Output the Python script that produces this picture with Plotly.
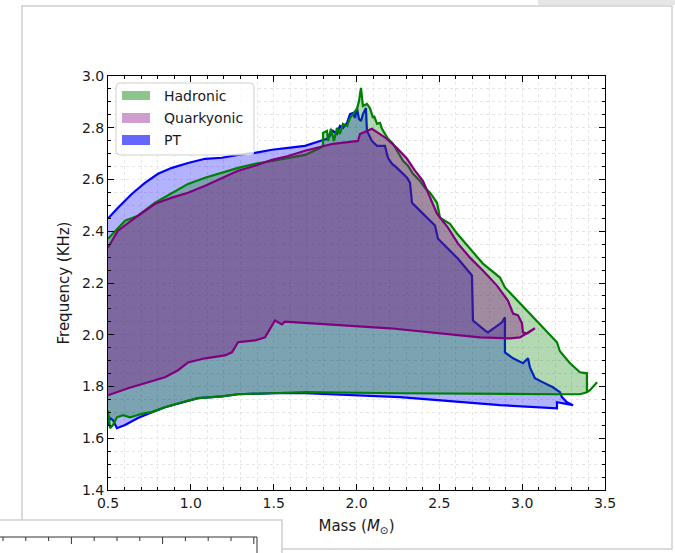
import plotly.graph_objects as go

# ---------------- data (Mass in M_sun, Frequency in kHz) ----------------
hadronic_mass = [0.500, 0.512, 0.530, 0.554, 0.591, 0.633, 0.675, 0.723, 0.766, 0.844, 0.947, 1.043,
                 1.188, 1.285, 1.490, 1.689, 2.263, 2.866, 3.228, 3.349, 3.391, 3.409, 3.452, 3.409,
                 3.391, 3.391, 3.349, 3.319, 3.289, 3.228, 3.210, 2.896, 2.866, 2.763, 2.685, 2.607,
                 2.564, 2.504, 2.486, 2.444, 2.413, 2.383, 2.341, 2.311, 2.281, 2.250, 2.220, 2.190,
                 2.172, 2.154, 2.142, 2.124, 2.106, 2.100, 2.081, 2.063, 2.039, 2.027, 2.015, 2.003,
                 1.979, 1.961, 1.943, 1.918, 1.900, 1.882, 1.864, 1.846, 1.828, 1.822, 1.798, 1.798,
                 1.780, 1.689, 1.490, 1.387, 1.285, 1.188, 1.086, 0.983, 0.886, 0.784, 0.681, 0.603,
                 0.500]
hadronic_freq = [1.708, 1.639, 1.651, 1.681, 1.689, 1.681, 1.689, 1.697, 1.701, 1.720, 1.739, 1.755,
                 1.762, 1.770, 1.774, 1.778, 1.774, 1.770, 1.770, 1.770, 1.778, 1.786, 1.816, 1.786,
                 1.778, 1.851, 1.855, 1.874, 1.890, 1.936, 1.971, 2.183, 2.221, 2.275, 2.333, 2.391,
                 2.429, 2.452, 2.510, 2.549, 2.568, 2.595, 2.622, 2.653, 2.672, 2.703, 2.738, 2.757,
                 2.776, 2.796, 2.819, 2.815, 2.846, 2.838, 2.876, 2.892, 2.884, 2.954, 2.903, 2.873,
                 2.853, 2.838, 2.807, 2.815, 2.776, 2.799, 2.749, 2.796, 2.749, 2.788, 2.780, 2.730,
                 2.722, 2.695, 2.672, 2.661, 2.645, 2.626, 2.607, 2.583, 2.549, 2.510, 2.460, 2.441,
                 2.371]

quark_mass = [0.500, 0.560, 0.681, 0.784, 0.886, 0.983, 1.086, 1.188, 1.285, 1.387, 1.490, 1.587,
              1.689, 1.858, 2.009, 2.021, 2.093, 2.130, 2.184, 2.244, 2.305, 2.353, 2.401, 2.486,
              2.552, 2.613, 2.685, 2.763, 2.848, 2.914, 2.945, 2.975, 2.999, 3.005, 3.029, 3.077,
              2.987, 2.927, 2.745, 2.202, 1.689, 1.568, 1.550, 1.508, 1.448, 1.387, 1.285, 1.248,
              1.206, 1.086, 0.983, 0.923, 0.844, 0.741, 0.621, 0.500]
quark_freq = [2.337, 2.402, 2.460, 2.506, 2.530, 2.549, 2.576, 2.607, 2.634, 2.653, 2.676, 2.691,
              2.711, 2.738, 2.749, 2.776, 2.796, 2.780, 2.757, 2.722, 2.680, 2.634, 2.595, 2.468,
              2.414, 2.352, 2.298, 2.248, 2.190, 2.132, 2.082, 2.075, 2.044, 2.009, 2.005, 2.025,
              1.990, 1.986, 1.990, 2.025, 2.048, 2.051, 2.040, 2.055, 1.990, 1.978, 1.971, 1.932,
              1.920, 1.909, 1.893, 1.863, 1.836, 1.816, 1.793, 1.766]

pt_mass = [0.500, 0.560, 0.645, 0.723, 0.802, 0.886, 0.983, 1.086, 1.188, 1.285, 1.387, 1.490,
           1.587, 1.689, 1.780, 1.822, 1.840, 1.858, 1.882, 1.900, 1.918, 1.943, 1.961, 1.979,
           1.991, 2.003, 2.015, 2.027, 2.039, 2.057, 2.063, 2.093, 2.124, 2.172, 2.190, 2.214,
           2.244, 2.305, 2.323, 2.335, 2.401, 2.474, 2.492, 2.546, 2.595, 2.613, 2.697, 2.703,
           2.775, 2.794, 2.878, 2.896, 2.896, 2.945, 3.005, 3.035, 3.047, 3.077, 3.126, 3.186,
           3.228, 3.240, 3.270, 3.307, 3.210, 3.210, 2.866, 2.263, 1.689, 1.490, 1.285, 1.188,
           1.043, 0.947, 0.844, 0.766, 0.681, 0.603, 0.554, 0.530, 0.512, 0.500]
pt_freq = [2.449, 2.491, 2.545, 2.587, 2.622, 2.645, 2.664, 2.680, 2.684, 2.695, 2.703, 2.715,
           2.722, 2.730, 2.749, 2.757, 2.769, 2.788, 2.776, 2.807, 2.799, 2.819, 2.853, 2.857,
           2.838, 2.876, 2.834, 2.826, 2.853, 2.876, 2.788, 2.749, 2.730, 2.730, 2.684, 2.661,
           2.645, 2.607, 2.587, 2.510, 2.468, 2.422, 2.371, 2.337, 2.306, 2.294, 2.229, 2.055,
           2.017, 2.009, 2.048, 2.067, 1.932, 1.909, 1.890, 1.909, 1.874, 1.832, 1.816, 1.797,
           1.778, 1.759, 1.739, 1.728, 1.739, 1.716, 1.728, 1.759, 1.774, 1.774, 1.770, 1.762,
           1.755, 1.739, 1.720, 1.701, 1.678, 1.651, 1.639, 1.670, 1.678, 1.651]

series_names = ["Hadronic", "Quarkyonic", "PT"]
x_ticks = [0.5, 1.0, 1.5, 2.0, 2.5, 3.0, 3.5]
y_ticks = [1.4, 1.6, 1.8, 2.0, 2.2, 2.4, 2.6, 2.8, 3.0]

# ---------------- styles ----------------
FONT = "DejaVu Sans"
TXT = "#1a1a1a"
GRID = "#e6e6e6"
line_col = {"Hadronic": "#008000", "Quarkyonic": "#800080", "PT": "#0000ff"}
fill_col = {"Hadronic": "rgba(0,128,0,0.30)", "Quarkyonic": "rgba(128,0,128,0.36)",
            "PT": "rgba(0,0,255,0.30)"}
legend_col = {"Hadronic": "rgba(0,128,0,0.45)", "Quarkyonic": "rgba(128,0,128,0.38)",
              "PT": "rgba(0,0,255,0.60)"}

data = {"Hadronic": (hadronic_mass, hadronic_freq),
        "Quarkyonic": (quark_mass, quark_freq),
        "PT": (pt_mass, pt_freq)}

fig = go.Figure()
for name in ["PT", "Hadronic", "Quarkyonic"]:
    xs, ys = data[name]
    fig.add_trace(go.Scatter(x=xs, y=ys, mode="lines", fill="toself",
                             fillcolor=fill_col[name],
                             line=dict(color=line_col[name], width=2.2),
                             name=name, showlegend=False, hoverinfo="skip"))

W, H = 675, 553
L, R, T, B = 108, 70, 76, 63
pw, ph = W - L - R, H - T - B


def px(x):
    return (x - L) / pw


def py(y):
    return (H - B - y) / ph


shapes = []
annotations = []

# window/figure decorations from the screenshot
shapes.append(dict(type="rect", xref="paper", yref="paper", x0=px(538), x1=px(676), y0=py(5), y1=py(-1),
                   fillcolor="#e6e6e6", line=dict(width=0), layer="below"))
shapes.append(dict(type="rect", xref="paper", yref="paper", x0=px(22), x1=px(672), y0=py(549), y1=py(6),
                   fillcolor="rgba(0,0,0,0)", line=dict(color="#cfcfcf", width=1.5), layer="below"))
shapes.append(dict(type="rect", xref="paper", yref="paper", x0=px(-2), x1=px(282), y0=py(555), y1=py(520),
                   fillcolor="white", line=dict(color="#cfcfcf", width=1.5), layer="above"))
shapes.append(dict(type="line", xref="paper", yref="paper", x0=px(-2), x1=px(257), y0=py(537), y1=py(537),
                   line=dict(color="#333333", width=1), layer="above"))
shapes.append(dict(type="line", xref="paper", yref="paper", x0=px(257), x1=px(257), y0=py(537), y1=py(555),
                   line=dict(color="#333333", width=1), layer="above"))
for i in range(12):
    tx = 3 + i * 22.8
    major = i in (3, 7, 11)
    shapes.append(dict(type="line", xref="paper", yref="paper", x0=px(tx), x1=px(tx),
                       y0=py(537), y1=py(537 + (7 if major else 4)),
                       line=dict(color="#333333", width=1), layer="above"))

# legend (matplotlib style, rounded frame)
lx0, lx1, ly0, ly1, rad = 116, 254, 83, 155, 4
rx, ry = rad / pw, rad / ph
X0, X1, Y0, Y1 = px(lx0), px(lx1), py(ly1), py(ly0)
legend_path = (f"M {X0+rx},{Y0} L {X1-rx},{Y0} Q {X1},{Y0} {X1},{Y0+ry} "
               f"L {X1},{Y1-ry} Q {X1},{Y1} {X1-rx},{Y1} L {X0+rx},{Y1} "
               f"Q {X0},{Y1} {X0},{Y1-ry} L {X0},{Y0+ry} Q {X0},{Y0} {X0+rx},{Y0} Z")
shapes.append(dict(type="path", xref="paper", yref="paper", path=legend_path,
                   fillcolor="rgba(255,255,255,0.8)", line=dict(color="#d0d0d0", width=1),
                   layer="above"))
rows = [(91, 100, 96), (113, 123, 118), (135, 145, 140)]
for name, (y0, y1, yc) in zip(series_names, rows):
    shapes.append(dict(type="rect", xref="paper", yref="paper", x0=px(122), x1=px(150),
                       y0=py(y1), y1=py(y0), fillcolor=legend_col[name], line=dict(width=0),
                       layer="above"))
    annotations.append(dict(xref="paper", yref="paper", x=px(162), y=py(yc), text=name,
                            xanchor="left", yanchor="middle", showarrow=False,
                            font=dict(family=FONT, size=14, color=TXT)))

axis_common = dict(showline=True, linecolor="black", linewidth=1, mirror="allticks",
                   ticks="inside", ticklen=6, tickwidth=1, tickcolor="black",
                   showgrid=True, gridcolor=GRID, griddash="dot", gridwidth=1,
                   zeroline=False, tickfont=dict(family=FONT, size=14, color=TXT))

fig.update_layout(
    width=W, height=H,
    margin=dict(l=L, r=R, t=T, b=B, autoexpand=False),
    paper_bgcolor="white", plot_bgcolor="white",
    showlegend=False,
    shapes=shapes, annotations=annotations,
    xaxis=dict(range=[0.5, 3.5], tickvals=x_ticks, ticktext=[f"{v:.1f}" for v in x_ticks],
               title=dict(text="Mass (<i>M</i><sub>⊙</sub>)", standoff=10,
                          font=dict(family=FONT, size=15, color=TXT)),
               minor=dict(dtick=0.1, tick0=0.5, ticks="inside", ticklen=3, tickcolor="black",
                          showgrid=True, gridcolor=GRID, griddash="dot"),
               **axis_common),
    yaxis=dict(range=[1.4, 3.0], tickvals=y_ticks, ticktext=[f"{v:.1f}" for v in y_ticks],
               title=dict(text="Frequency (KHz)", standoff=8,
                          font=dict(family=FONT, size=15, color=TXT)),
               minor=dict(dtick=0.05, tick0=1.4, ticks="inside", ticklen=3, tickcolor="black",
                          showgrid=True, gridcolor=GRID, griddash="dot"),
               **axis_common),
)

fig.write_html("out.html")
